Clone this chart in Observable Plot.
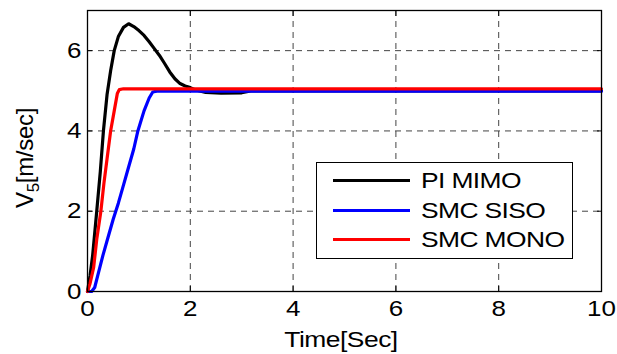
<!DOCTYPE html>
<html><head><meta charset="utf-8">
<script src="https://cdn.jsdelivr.net/npm/d3@7"></script>
<script src="https://cdn.jsdelivr.net/npm/@observablehq/plot@0.6"></script>
<style>
body{margin:0;background:#fff;}
#wrap{position:relative;width:617px;height:354px;font-family:"Liberation Sans",Arial,sans-serif;}
.legend{position:absolute;left:316px;top:162px;width:255px;height:95px;border:1.5px solid #000;background:#fff;}
.row{position:absolute;left:0;width:255px;height:24px;}
.row .ln{position:absolute;left:16px;width:77px;top:10px;height:0;border-top:3.5px solid #000;}
.row .tx{position:absolute;left:104px;top:0;font-size:22px;line-height:24px;letter-spacing:-0.5px;transform:scaleX(1.2);transform-origin:left center;white-space:nowrap;}
</style></head>
<body><div id="wrap"></div>
<script>
const seriesNames = ["PI MIMO", "SMC SISO", "SMC MONO"];
const seriesColors = ["#000000", "#0000ff", "#ff0000"];
const xTicks = [0, 2, 4, 6, 8, 10];
const yTicks = [0, 2, 4, 6];

const tPI = [0, 0.05, 0.1, 0.18, 0.25, 0.31, 0.38, 0.45, 0.52, 0.6, 0.7, 0.8, 0.9, 1.0, 1.1, 1.2, 1.3, 1.4, 1.5, 1.6, 1.7, 1.8, 1.9, 2.0, 2.1, 2.3, 2.6, 3.0, 3.2, 10];
const vPI = [0, 0.4, 0.9, 2.0, 3.0, 4.0, 4.9, 5.5, 6.0, 6.35, 6.58, 6.67, 6.6, 6.5, 6.38, 6.22, 6.05, 5.88, 5.68, 5.47, 5.3, 5.18, 5.12, 5.08, 5.02, 4.96, 4.94, 4.95, 5.0, 5.0];

const tSISO = [0, 0.08, 0.14, 0.2, 0.3, 0.4, 0.5, 0.55, 0.6, 0.7, 0.8, 0.9, 0.98, 1.1, 1.2, 1.27, 1.35, 10];
const vSISO = [0, 0, 0.1, 0.4, 0.9, 1.35, 1.8, 2.0, 2.2, 2.65, 3.1, 3.55, 4.0, 4.5, 4.82, 4.97, 4.99, 4.99];

const tMONO = [0, 0.05, 0.12, 0.18, 0.26, 0.32, 0.38, 0.45, 0.52, 0.58, 0.62, 0.7, 10];
const vMONO = [0, 0.2, 0.6, 1.3, 2.0, 2.7, 3.3, 4.0, 4.5, 4.93, 5.03, 5.05, 5.05];

const times = [tPI, tSISO, tMONO];
const vals = [vPI, vSISO, vMONO];
const data = [];
seriesNames.forEach((name, i) => times[i].forEach((t, j) => data.push({t, v: vals[i][j], series: name})));

const font = "Liberation Sans, Arial, sans-serif";
const plot = Plot.plot({
  width: 617, height: 354,
  marginLeft: 87, marginRight: 16, marginTop: 10, marginBottom: 63,
  x: {domain: [0, 10]},
  y: {domain: [0, 7]},
  color: {domain: seriesNames, range: seriesColors},
  style: {fontFamily: font, fontSize: "22px", background: "#fff", color: "#000"},
  marks: [
    Plot.gridX(xTicks.filter(d => d > 0 && d < 10), {stroke: "#444", strokeOpacity: 1, strokeDasharray: "6,5", strokeWidth: 1}),
    Plot.gridY(yTicks.filter(d => d > 0), {stroke: "#444", strokeOpacity: 1, strokeDasharray: "6,5", strokeWidth: 1}),
    Plot.line(data, {x: "t", y: "v", z: "series", stroke: "series", strokeWidth: 3.2, strokeLinejoin: "round", strokeLinecap: "round"}),
    Plot.frame({stroke: "#000", strokeWidth: 1.3}),
    Plot.axisX(xTicks, {anchor: "bottom", tickSize: 0, tickPadding: 9, label: null, fontSize: 22}),
    Plot.axisY(yTicks, {anchor: "left", tickSize: 0, tickPadding: 6, label: null, fontSize: 22}),
    Plot.axisX(xTicks, {anchor: "bottom", tickSize: -5, tickFormat: () => "", label: null}),
    Plot.axisX(xTicks, {anchor: "top", tickSize: -5, tickFormat: () => "", label: null}),
    Plot.axisY(yTicks, {anchor: "left", tickSize: -5, tickFormat: () => "", label: null}),
    Plot.axisY(yTicks, {anchor: "right", tickSize: -5, tickFormat: () => "", label: null})
  ]
});

const svg = d3.select(plot);
svg.selectAll('g[aria-label="x-axis tick label"] text, g[aria-label="y-axis tick label"] text')
  .attr("transform", function() { return (this.getAttribute("transform") || "") + " scale(1.18,1)"; });

// axis titles
svg.append("text")
  .attr("transform", "translate(341,347) scale(1.2,1)")
  .attr("text-anchor", "middle")
  .attr("font-family", font).attr("font-size", 22).attr("letter-spacing", "-0.4")
  .text("Time[Sec]");
const yl = svg.append("text")
  .attr("transform", "translate(33,158) rotate(-90)")
  .attr("text-anchor", "middle")
  .attr("font-family", font).attr("font-size", 24).attr("letter-spacing", "-0.3");
yl.append("tspan").text("V");
yl.append("tspan").attr("font-size", 17).attr("dy", 6).text("5");
yl.append("tspan").attr("dy", -6).text("[m/sec]");

const wrap = document.getElementById("wrap");
wrap.appendChild(plot);
const leg = document.createElement("div");
leg.className = "legend";
const rowTops = [6, 36, 65];
seriesNames.forEach((name, i) => {
  const r = document.createElement("div");
  r.className = "row";
  r.style.top = rowTops[i] + "px";
  r.innerHTML = `<div class="ln" style="border-top-color:${seriesColors[i]}"></div><div class="tx">${name}</div>`;
  leg.appendChild(r);
});
wrap.appendChild(leg);
</script></body></html>
